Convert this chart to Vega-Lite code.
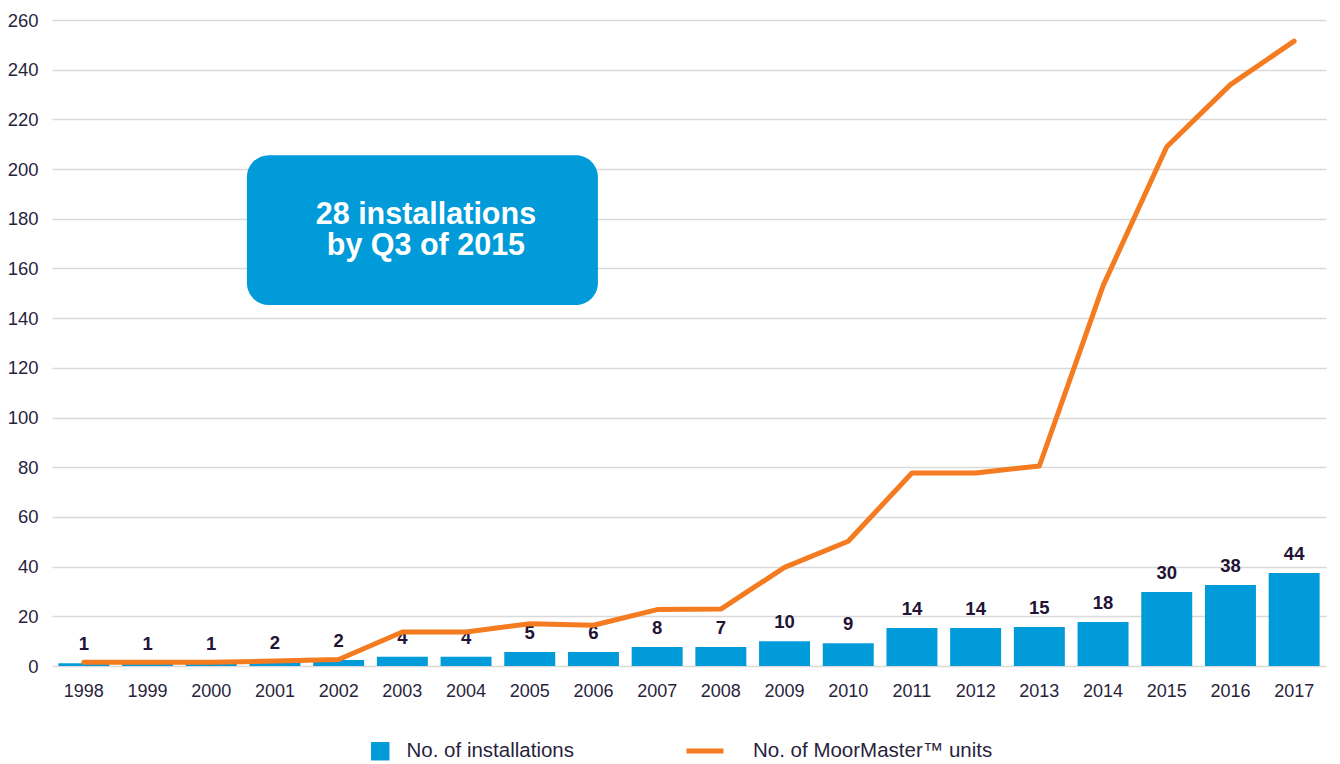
{
  "$schema": "https://vega.github.io/schema/vega-lite/v6.json",
  "width": 1274,
  "height": 646,
  "autosize": "none",
  "padding": {"left": 52, "top": 20, "right": 14, "bottom": 98},
  "background": "white",
  "config": {
    "view": {"stroke": null},
    "font": "Liberation Sans",
    "axis": {"labelColor": "#2a1f3d", "labelFont": "Liberation Sans"},
    "legend": {"labelColor": "#2a1f3d", "labelFont": "Liberation Sans", "labelFontSize": 20.5, "labelLimit": 0, "padding": 0}
  },
  "datasets": {
    "main": [
      {"year": "1998", "inst": 1.1, "label": "1", "units": 1.5},
      {"year": "1999", "inst": 1.1, "label": "1", "units": 1.5},
      {"year": "2000", "inst": 1.1, "label": "1", "units": 1.5},
      {"year": "2001", "inst": 1.6, "label": "2", "units": 2.0},
      {"year": "2002", "inst": 2.4, "label": "2", "units": 2.6},
      {"year": "2003", "inst": 3.7, "label": "4", "units": 13.7},
      {"year": "2004", "inst": 3.7, "label": "4", "units": 13.7},
      {"year": "2005", "inst": 5.6, "label": "5", "units": 17.0},
      {"year": "2006", "inst": 5.6, "label": "6", "units": 16.4},
      {"year": "2007", "inst": 7.6, "label": "8", "units": 22.7},
      {"year": "2008", "inst": 7.6, "label": "7", "units": 22.9},
      {"year": "2009", "inst": 10.0, "label": "10", "units": 39.7},
      {"year": "2010", "inst": 9.2, "label": "9", "units": 50.2},
      {"year": "2011", "inst": 15.3, "label": "14", "units": 77.7},
      {"year": "2012", "inst": 15.3, "label": "14", "units": 77.7},
      {"year": "2013", "inst": 15.7, "label": "15", "units": 80.5},
      {"year": "2014", "inst": 17.7, "label": "18", "units": 153},
      {"year": "2015", "inst": 29.8, "label": "30", "units": 209},
      {"year": "2016", "inst": 32.6, "label": "38", "units": 234},
      {"year": "2017", "inst": 37.4, "label": "44", "units": 251.5}
    ],
    "note": [
      {"x1": 3.06, "x2": 8.57, "y1": 145.3, "y2": 205.6, "xc": 5.87, "yc": 181.6, "text": ["28 installations", "by Q3 of 2015"]}
    ]
  },
  "layer": [
    {
      "data": {"name": "main"},
      "encoding": {
        "x": {
          "field": "year",
          "type": "nominal",
          "scale": {"paddingInner": 0.2, "paddingOuter": 0.1},
          "axis": {"title": null, "labelAngle": 0, "domain": false, "ticks": false, "labelFontSize": 18, "labelPadding": 16}
        }
      },
      "layer": [
        {
          "mark": {"type": "bar"},
          "encoding": {
            "y": {
              "field": "inst",
              "type": "quantitative",
              "scale": {"domain": [0, 260], "nice": false},
              "axis": {
                "title": null,
                "values": [0, 20, 40, 60, 80, 100, 120, 140, 160, 180, 200, 220, 240, 260],
                "domain": false,
                "ticks": false,
                "labelFontSize": 18.5,
                "labelPadding": 14,
                "gridColor": "#d9d9d9",
                "gridWidth": 1.6
              }
            },
            "color": {
              "datum": "No. of installations",
              "type": "nominal",
              "scale": {"range": ["#009bd8"]},
              "legend": {"title": null, "orient": "none", "legendX": 318, "legendY": 721, "symbolType": "square", "symbolSize": 340, "symbolStrokeWidth": 0, "labelOffset": 16}
            }
          }
        },
        {
          "mark": {"type": "text", "fontWeight": "bold", "fontSize": 18.5, "color": "#231436", "baseline": "alphabetic", "dy": -13},
          "encoding": {
            "y": {"field": "inst", "type": "quantitative"},
            "text": {"field": "label"}
          }
        },
        {
          "mark": {"type": "line", "strokeWidth": 5, "strokeCap": "round", "strokeJoin": "round"},
          "encoding": {
            "y": {"field": "units", "type": "quantitative"},
            "stroke": {
              "datum": "No. of MoorMaster™ units",
              "type": "nominal",
              "scale": {"range": ["#f47b20"]},
              "legend": {"title": null, "orient": "none", "legendX": 632, "legendY": 710, "symbolType": "stroke", "symbolSize": 1369, "symbolStrokeWidth": 5, "labelOffset": 27}
            }
          }
        }
      ]
    },
    {
      "data": {"name": "note"},
      "layer": [
        {
          "mark": {"type": "rect", "cornerRadius": 22, "color": "#009bd8"},
          "encoding": {
            "x": {"field": "x1", "type": "quantitative", "scale": {"domain": [0, 20], "nice": false}, "axis": null},
            "x2": {"field": "x2"},
            "y": {"field": "y1", "type": "quantitative"},
            "y2": {"field": "y2"}
          }
        },
        {
          "mark": {"type": "text", "fontWeight": "bold", "fontSize": 30.5, "color": "white", "align": "center", "baseline": "middle", "lineHeight": 31},
          "encoding": {
            "x": {"field": "xc", "type": "quantitative", "scale": {"domain": [0, 20], "nice": false}, "axis": null},
            "y": {"field": "yc", "type": "quantitative"},
            "text": {"field": "text"}
          }
        }
      ]
    }
  ],
  "resolve": {"scale": {"x": "independent"}, "axis": {"x": "independent"}}
}
